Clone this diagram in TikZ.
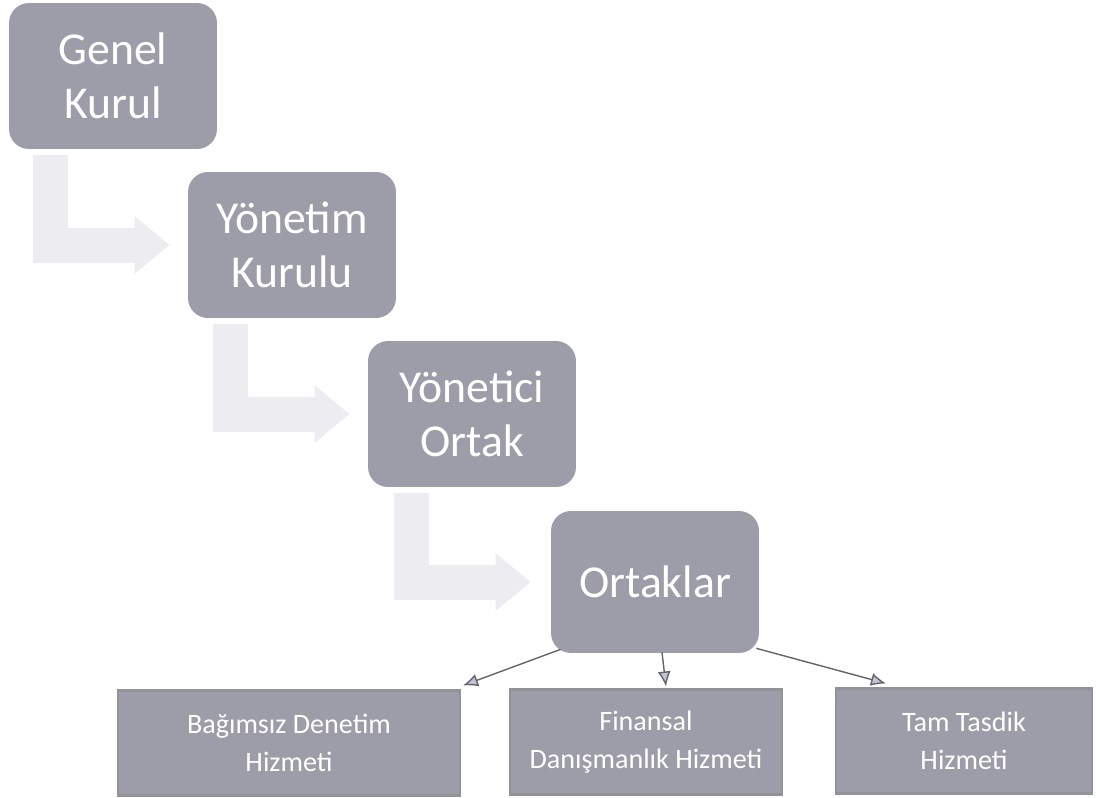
\documentclass[tikz,border=0pt]{standalone}
\usepackage{fontspec}
\setmainfont{Carlito}
\usetikzlibrary{arrows.meta}
\definecolor{boxgray}{RGB}{156,157,169}
\definecolor{bendgray}{RGB}{236,236,241}
\definecolor{linegray}{RGB}{100,100,110}
\definecolor{tipgray}{RGB}{196,196,214}
\begin{document}
\begin{tikzpicture}[x=0.02cm, y=-0.02cm,
    level/.style={fill=boxgray, rounded corners=0.4cm, minimum width=4.16cm, minimum height=2.92cm, text=white, align=center, font=\fontsize{26}{31}\selectfont},
    service/.style={fill=boxgray, draw=linegray!70, line width=1.2pt, minimum height=2.1cm, text=white, align=center, font=\fontsize{16}{21.5}\selectfont},
    steparrow/.style={draw=bendgray, line width=0.7cm, line join=miter, -{Triangle[width=1.1cm,length=0.7cm]}},
    link/.style={draw=linegray, thick, -{Latex[length=3mm,width=2.6mm,fill=tipgray]}}]
  \useasboundingbox (0,0) rectangle (1096,798);

  \node (genel) [level] at (113,76) {Genel\\Kurul};
  \node (yonetim) [level] at (292,245) {Yönetim\\Kurulu};
  \node (yonetici) [level] at (472,414) {Yönetici\\Ortak};
  \node (ortaklar) [level, minimum height=2.84cm] at (655,582) {Ortaklar};

  % step arrows between the levels
  \draw[steparrow] ([shift={(42,6)}]genel.south west) |- ([shift={(-18,0)}]yonetim.west);
  \draw[steparrow] ([shift={(43,6)}]yonetim.south west) |- ([shift={(-18,0)}]yonetici.west);
  \draw[steparrow] ([shift={(44,6)}]yonetici.south west) |- ([shift={(-20,0)}]ortaklar.west);

  \node (bagimsiz) [service, minimum width=6.84cm] at (289,743) {Bağımsız Denetim\\Hizmeti};
  \node (finansal) [service, minimum width=5.44cm] at (646,742) {Finansal\\Danışmanlık Hizmeti};
  \node (tasdik) [service, minimum width=5.12cm] at (964,741) {Tam Tasdik\\Hizmeti};

  \draw[link] ([shift={(10,-4)}]ortaklar.south west) -- ([shift={(2,-4)}]bagimsiz.north east);
  \draw[link] ([shift={(7,-1)}]ortaklar.south) -- ([shift={(20,-2)}]finansal.north);
  \draw[link] ([shift={(-3,-5)}]ortaklar.south east) -- ([shift={(-78,-4)}]tasdik.north);
\end{tikzpicture}
\end{document}
